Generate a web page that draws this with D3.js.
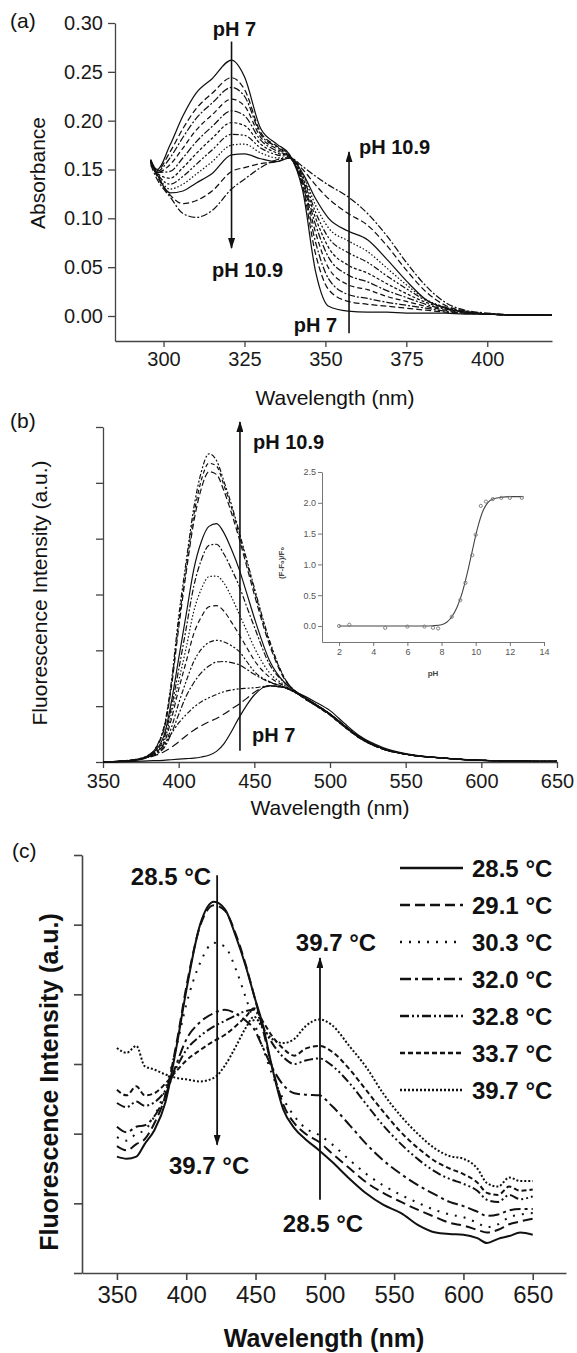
<!DOCTYPE html>
<html>
<head>
<meta charset="utf-8">
<script src="https://cdn.jsdelivr.net/npm/d3@7"></script>
<style>
  body { margin: 0; background: #fff; }
  svg text { font-family: "Liberation Sans", Arial, Helvetica, sans-serif; }
</style>
</head>
<body>
<div id="fig"></div>
<script>
// ---------- (a) absorbance, pH 7 -> pH 10.9 ----------
const wlA = [296, 298, 302, 306, 310, 315, 321, 325, 330, 335, 339, 343, 347, 351, 357, 363, 369, 375, 381, 387, 393, 400, 410, 420];
const absA = [
  [.160,.150,.175,.205,.228,.243,.262,.245,.192,.176,.165,.128,.045,.010,.005,.004,.004,.003,.003,.003,.002,.002,.001,.001],
  [.160,.149,.168,.192,.212,.228,.244,.232,.188,.174,.164,.132,.063,.027,.015,.012,.010,.008,.006,.004,.003,.002,.001,.001],
  [.160,.148,.162,.183,.202,.218,.234,.225,.186,.173,.163,.135,.075,.038,.022,.018,.014,.011,.008,.005,.003,.002,.001,.001],
  [.159,.147,.155,.172,.190,.206,.222,.215,.183,.171,.163,.137,.085,.049,.032,.027,.020,.015,.010,.006,.004,.002,.001,.001],
  [.159,.147,.148,.162,.178,.194,.210,.205,.180,.169,.163,.139,.093,.060,.042,.035,.026,.019,.012,.007,.004,.002,.001,.001],
  [.159,.146,.141,.152,.166,.182,.198,.195,.176,.167,.163,.141,.100,.070,.052,.044,.033,.023,.014,.008,.004,.002,.001,.001],
  [.158,.146,.135,.143,.155,.170,.186,.185,.172,.165,.163,.143,.106,.080,.065,.055,.041,.028,.016,.009,.005,.002,.001,.001],
  [.158,.145,.130,.135,.145,.158,.175,.176,.167,.162,.162,.145,.113,.090,.077,.066,.049,.032,.017,.009,.005,.002,.001,.001],
  [.158,.145,.126,.128,.136,.146,.165,.166,.161,.158,.162,.146,.120,.100,.087,.078,.058,.036,.017,.008,.004,.002,.001,.001],
  [.157,.143,.124,.115,.118,.128,.148,.152,.156,.158,.162,.150,.134,.120,.105,.093,.072,.047,.025,.011,.005,.002,.001,.001],
  [.155,.140,.122,.105,.101,.108,.130,.140,.152,.160,.162,.153,.143,.134,.122,.105,.082,.055,.031,.014,.006,.003,.001,.001]
];
const dashA = ["", "6,3", "7,2,2,2", "5,3", "7,2,2,2", "3,2", "6,2,2,2,2,2", "1.5,2", "", "6,3", "7,2,2,2"];
const yTicksA = [0, 0.05, 0.10, 0.15, 0.20, 0.25, 0.30];
const yMinorA = [0.025, 0.075, 0.125, 0.175, 0.225, 0.275];
const xTicksA = [300, 325, 350, 375, 400];
const xMinorA = [287.5, 312.5, 337.5, 362.5, 387.5, 412.5];

// ---------- (b) fluorescence, pH 7 -> pH 10.9 ----------
const wlB = [350, 370, 380, 390, 395, 400, 405, 410, 415, 420, 425, 430, 435, 440, 445, 450, 460, 470, 480, 490, 500, 510, 520, 535, 550, 575, 600, 650];
const fluB = [
  [0.00,0.01,0.02,0.03,0.04,0.05,0.06,0.07,0.09,0.12,0.19,0.33,0.55,0.80,1.02,1.20,1.37,1.33,1.22,1.08,0.92,0.68,0.46,0.26,0.15,0.07,0.03,0.01],
  [0.00,0.03,0.08,0.18,0.26,0.36,0.47,0.57,0.65,0.72,0.78,0.86,0.95,1.04,1.14,1.25,1.36,1.33,1.20,1.04,0.86,0.64,0.44,0.24,0.14,0.07,0.03,0.01],
  [0.00,0.03,0.09,0.30,0.50,0.70,0.85,0.98,1.08,1.15,1.21,1.26,1.29,1.31,1.32,1.33,1.36,1.33,1.20,1.04,0.86,0.64,0.44,0.24,0.14,0.07,0.03,0.01],
  [0.00,0.03,0.09,0.24,0.50,0.85,1.18,1.42,1.60,1.72,1.79,1.80,1.78,1.74,1.66,1.57,1.43,1.34,1.20,1.04,0.86,0.64,0.44,0.24,0.14,0.07,0.03,0.01],
  [0.00,0.03,0.09,0.27,0.60,1.05,1.45,1.80,2.02,2.14,2.18,2.15,2.08,1.98,1.80,1.62,1.44,1.34,1.20,1.04,0.86,0.64,0.44,0.24,0.14,0.07,0.03,0.01],
  [0.00,0.03,0.10,0.32,0.75,1.30,1.80,2.30,2.60,2.78,2.80,2.70,2.50,2.28,2.05,1.82,1.52,1.36,1.20,1.04,0.86,0.64,0.43,0.24,0.14,0.07,0.03,0.01],
  [0.00,0.03,0.10,0.35,0.85,1.45,2.05,2.70,3.10,3.32,3.33,3.20,2.95,2.65,2.35,2.05,1.60,1.38,1.20,1.03,0.85,0.63,0.43,0.24,0.14,0.07,0.03,0.01],
  [0.00,0.03,0.10,0.40,0.95,1.65,2.40,3.15,3.62,3.88,3.90,3.72,3.45,3.15,2.78,2.42,1.75,1.42,1.21,1.03,0.85,0.63,0.43,0.24,0.14,0.07,0.03,0.01],
  [0.00,0.03,0.11,0.45,1.05,1.85,2.65,3.45,3.95,4.22,4.27,4.10,3.80,3.45,3.02,2.58,1.82,1.42,1.22,1.04,0.86,0.63,0.43,0.24,0.14,0.07,0.03,0.01],
  [0.00,0.04,0.12,0.55,1.30,2.40,3.40,4.30,4.90,5.20,5.15,4.85,4.45,4.00,3.50,3.00,2.10,1.48,1.20,1.02,0.84,0.62,0.42,0.23,0.14,0.07,0.03,0.01],
  [0.00,0.04,0.12,0.58,1.35,2.50,3.50,4.42,5.05,5.35,5.30,4.95,4.55,4.08,3.58,3.08,2.15,1.50,1.20,1.02,0.84,0.62,0.42,0.23,0.14,0.07,0.03,0.01],
  [0.00,0.04,0.12,0.60,1.40,2.60,3.60,4.55,5.20,5.52,5.40,5.02,4.60,4.12,3.62,3.12,2.18,1.50,1.20,1.02,0.84,0.62,0.42,0.23,0.14,0.07,0.03,0.01]
];
const dashB = ["", "8,4", "5,2,2,2,2,2", "6,2,2,2", "5,2,2,2,2,2", "5,3", "1.5,2", "6,2,2,2", "", "6,3", "4,3", "5,2,2,2,2,2"];
const xTicksB = [350, 400, 450, 500, 550, 600, 650];
const xMinorB = [375, 425, 475, 525, 575, 625];
const yTicksB = [0, 1, 2, 3, 4, 5, 6];
const yMinorB = [0.5, 1.5, 2.5, 3.5, 4.5, 5.5];

// inset: (F-F0)/F0 against pH
const insetPH    = [2.0, 2.6, 4.7, 6.0, 7.0, 7.5, 7.8, 8.6, 9.1, 9.4, 9.8, 10.0, 10.3, 10.6, 11.0, 11.5, 12.0, 12.7];
const insetRatio = [0.00, 0.02, -0.03, -0.01, -0.01, -0.03, -0.04, 0.15, 0.42, 0.70, 1.15, 1.48, 1.95, 2.02, 2.06, 2.08, 2.08, 2.08];
const fitPH    = [2, 3, 4, 5, 6, 7, 7.5, 8, 8.3, 8.6, 8.9, 9.2, 9.5, 9.8, 10.1, 10.4, 10.7, 11, 11.5, 12, 12.8];
const fitRatio = [0, 0, 0, 0, 0, 0, 0.005, 0.02, 0.06, 0.15, 0.30, 0.53, 0.85, 1.22, 1.58, 1.85, 2.0, 2.06, 2.09, 2.1, 2.1];
const xTicksI = [2, 4, 6, 8, 10, 12, 14];
const xMinorI = [3, 5, 7, 9, 11, 13];
const yTicksI = [0, 0.5, 1.0, 1.5, 2.0, 2.5];
const yMinorI = [0.25, 0.75, 1.25, 1.75, 2.25];

// ---------- (c) fluorescence vs temperature ----------
const tempLabels = ["28.5 \u00B0C", "29.1 \u00B0C", "30.3 \u00B0C", "32.0 \u00B0C", "32.8 \u00B0C", "33.7 \u00B0C", "39.7 \u00B0C"];
const wlC = [350, 357, 364, 370, 377, 385, 393, 400, 410, 420, 428, 436, 443, 449, 455, 462, 470, 478, 486, 496, 505, 518, 530, 542, 555, 568, 580, 590, 600, 610, 617, 625, 633, 641, 650];
const fluC = [
  [1.67,1.64,1.67,1.85,2.05,2.45,3.25,4.05,5.00,5.33,5.22,4.82,4.40,3.98,3.58,2.95,2.35,2.08,1.92,1.76,1.60,1.35,1.14,0.98,0.86,0.68,0.58,0.56,0.55,0.50,0.43,0.49,0.53,0.58,0.55],
  [1.82,1.76,1.85,1.92,2.15,2.55,3.30,4.10,4.98,5.28,5.20,4.85,4.42,3.98,3.52,2.95,2.42,2.15,2.00,1.88,1.72,1.50,1.30,1.15,1.02,0.90,0.80,0.72,0.68,0.62,0.58,0.62,0.70,0.74,0.78],
  [1.95,1.90,2.00,2.05,2.25,2.65,3.25,3.85,4.45,4.74,4.68,4.35,3.95,3.60,3.25,2.85,2.50,2.25,2.08,1.98,1.85,1.62,1.42,1.26,1.12,1.00,0.90,0.84,0.80,0.72,0.66,0.70,0.80,0.84,0.86],
  [2.10,2.02,2.10,2.12,2.25,2.55,3.00,3.35,3.60,3.73,3.78,3.72,3.62,3.50,3.25,2.95,2.70,2.58,2.56,2.55,2.40,2.12,1.85,1.62,1.42,1.25,1.12,1.02,0.96,0.88,0.82,0.84,0.90,0.92,0.92],
  [2.44,2.38,2.46,2.40,2.45,2.62,2.95,3.20,3.40,3.54,3.62,3.70,3.76,3.78,3.55,3.30,3.10,3.00,3.05,3.08,2.98,2.72,2.42,2.12,1.85,1.62,1.45,1.35,1.28,1.18,1.05,1.02,1.12,1.06,1.10],
  [2.63,2.55,2.68,2.55,2.58,2.72,2.90,3.05,3.20,3.33,3.42,3.55,3.68,3.80,3.62,3.40,3.22,3.12,3.22,3.26,3.18,2.92,2.62,2.32,2.02,1.78,1.60,1.50,1.42,1.30,1.15,1.12,1.24,1.18,1.20],
  [3.23,3.16,3.26,2.97,2.92,2.85,2.80,2.78,2.75,2.80,2.98,3.26,3.52,3.68,3.52,3.36,3.30,3.36,3.54,3.64,3.56,3.25,2.95,2.58,2.25,1.98,1.78,1.68,1.64,1.50,1.29,1.24,1.37,1.32,1.32]
];
const dashC = ["", "10,5", "2,7", "11,4,3,4", "9,3,2,3,2,3", "5,3", "2,2"];
const xTicksC = [350, 400, 450, 500, 550, 600, 650];
const xMinorC = [375, 425, 475, 525, 575, 625];
const yTicksC = [0, 1, 2, 3, 4, 5, 6];
const yMinorC = [0.5, 1.5, 2.5, 3.5, 4.5, 5.5];

const width = 577, height = 1353;
const ink = "#111";

const svg = d3.select("#fig").append("svg")
    .attr("width", width)
    .attr("height", height)
    .attr("viewBox", [0, 0, width, height]);

svg.append("defs").append("marker")
    .attr("id", "head")
    .attr("viewBox", "0 0 11 7")
    .attr("refX", 10)
    .attr("refY", 3.5)
    .attr("markerUnits", "userSpaceOnUse")
    .attr("markerWidth", 11)
    .attr("markerHeight", 7)
    .attr("orient", "auto")
    .append("path")
    .attr("d", "M0,0L11,3.5L0,7Z")
    .attr("fill", ink);

// draws one axis (major + minor ticks)
function axis(gen, scale, pos, majors, minors, opt) {
  const g = svg.append("g").attr("transform", pos);
  g.call(gen(scale).tickValues(minors).tickSizeInner(opt.minor).tickSizeOuter(0).tickFormat(""));
  g.select(".domain").remove();
  g.call(gen(scale).tickValues(majors).tickSizeInner(opt.major).tickSizeOuter(0)
      .tickPadding(opt.pad).tickFormat(opt.fmt || ""));
  g.selectAll(".domain").attr("stroke", opt.color).attr("stroke-width", opt.sw);
  g.selectAll(".tick line").attr("stroke", opt.color).attr("stroke-width", opt.sw);
  g.selectAll(".tick text").attr("font-size", opt.fs).attr("fill", opt.textColor || "#1a1a1a");
  return g;
}

function arrow(x, y1, y2, sw) {
  svg.append("line")
      .attr("x1", x).attr("x2", x)
      .attr("y1", y1).attr("y2", y2)
      .attr("stroke", ink)
      .attr("stroke-width", sw)
      .attr("marker-end", "url(#head)");
}

function label(txt, x, y, fs, opts = {}) {
  return svg.append("text")
      .attr("x", x).attr("y", y)
      .attr("font-size", fs)
      .attr("font-weight", opts.bold ? "bold" : null)
      .attr("text-anchor", opts.anchor || "start")
      .attr("fill", opts.fill || ink)
      .attr("transform", opts.rotate ? `rotate(-90,${x},${y})` : null)
      .text(txt);
}

// ===================== panel (a) =====================
const xA = d3.scaleLinear().domain([285, 420]).range([115, 552]);
const yA = d3.scaleLinear().domain([-0.0256, 0.30]).range([341, 23]);

axis(d3.axisLeft, yA, "translate(115,0)", yTicksA, yMinorA,
  { major: 7, minor: 4, pad: 5, fmt: d3.format(".2f"), fs: 20, color: "#444", sw: 1.3 });
axis(d3.axisBottom, xA, "translate(0,341)", xTicksA, xMinorA,
  { major: 6, minor: 3, pad: 5, fmt: d3.format("d"), fs: 20, color: "#444", sw: 1.3 });

const lineA = d3.line()
    .x((d, i) => xA(wlA[i]))
    .y(d => yA(d))
    .curve(d3.curveMonotoneX);

svg.append("g")
    .attr("fill", "none")
    .attr("stroke", ink)
    .attr("stroke-width", 1.25)
    .selectAll("path")
    .data(absA)
    .join("path")
    .attr("stroke-dasharray", (d, i) => dashA[i])
    .attr("d", lineA);

arrow(xA(321), yA(0.281), yA(0.0696), 1.6);
arrow(xA(357.3), yA(-0.0177), yA(0.168), 1.6);
label("pH 7", xA(321) + 3, yA(0.281) - 6, 20, { bold: true, anchor: "middle" });
label("pH 10.9", xA(321) + 16, yA(0.0696) + 29, 20, { bold: true, anchor: "middle" });
label("pH 10.9", xA(357.3) + 10, yA(0.168) + 2, 20, { bold: true });
label("pH 7", xA(357.3) - 12, yA(-0.0177) - 1, 20, { bold: true, anchor: "end" });

label("(a)", 10, 28, 21);
label("Absorbance", 45, 173, 21, { anchor: "middle", rotate: true });
label("Wavelength (nm)", 335, 405, 21, { anchor: "middle" });

// ===================== panel (b) =====================
const xB = d3.scaleLinear().domain([350, 650]).range([103, 557]);
const yB = d3.scaleLinear().domain([0, 6]).range([762, 427]);

axis(d3.axisLeft, yB, "translate(103,0)", yTicksB, yMinorB,
  { major: 7, minor: 4, pad: 4, fmt: () => "", fs: 20, color: "#444", sw: 1.3 });
axis(d3.axisBottom, xB, "translate(0,762)", xTicksB, xMinorB,
  { major: 6, minor: -4, pad: 6, fmt: d3.format("d"), fs: 20, color: "#444", sw: 1.3 });

const lineB = d3.line()
    .x((d, i) => xB(wlB[i]))
    .y(d => yB(d))
    .curve(d3.curveMonotoneX);

svg.append("g")
    .attr("fill", "none")
    .attr("stroke", ink)
    .attr("stroke-width", 1.2)
    .selectAll("path")
    .data(fluB)
    .join("path")
    .attr("stroke-dasharray", (d, i) => dashB[i])
    .attr("d", lineB);

arrow(xB(440.5), yB(0.2), yB(6.09), 1.6);
label("pH 10.9", xB(440.5) + 13, 449, 20, { bold: true });
label("pH 7", xB(440.5) + 12, 742, 20, { bold: true });

label("(b)", 10, 428, 21);
label("Fluorescence Intensity (a.u.)", 47, 593, 21, { anchor: "middle", rotate: true });
label("Wavelength (nm)", 330, 815, 21, { anchor: "middle" });

// inset
const xI = d3.scaleLinear().domain([1, 14]).range([322, 544]);
const yI = d3.scaleLinear().domain([-0.26, 2.5]).range([642, 472]);

axis(d3.axisLeft, yI, "translate(322,0)", yTicksI, yMinorI,
  { major: 4, minor: 2, pad: 2, fmt: d3.format(".1f"), fs: 9, color: "#666", sw: 0.9, textColor: "#555" });
axis(d3.axisBottom, xI, "translate(0,642)", xTicksI, xMinorI,
  { major: 4, minor: 2, pad: 3, fmt: d3.format("d"), fs: 9, color: "#666", sw: 0.9, textColor: "#555" });

svg.append("path")
    .datum(fitRatio)
    .attr("fill", "none")
    .attr("stroke", "#444")
    .attr("stroke-width", 1.1)
    .attr("d", d3.line().x((d, i) => xI(fitPH[i])).y(d => yI(d)).curve(d3.curveMonotoneX));

svg.append("g")
    .selectAll("circle")
    .data(insetRatio)
    .join("circle")
    .attr("cx", (d, i) => xI(insetPH[i]))
    .attr("cy", d => yI(d))
    .attr("r", 1.6)
    .attr("fill", "none")
    .attr("stroke", "#777")
    .attr("stroke-width", 0.9);

label("(F-F\u2080)/F\u2080", 284, 563, 8, { bold: true, anchor: "middle", rotate: true, fill: "#444" });
label("pH", 433, 676, 8, { bold: true, anchor: "middle", fill: "#444" });

// ===================== panel (c) =====================
const xC = d3.scaleLinear().domain([324.8, 674]).range([82, 566]);
const yC = d3.scaleLinear().domain([0, 6]).range([1273, 855]);

axis(d3.axisLeft, yC, "translate(82,0)", yTicksC, yMinorC,
  { major: 8, minor: 5, pad: 4, fmt: () => "", fs: 24, color: "#444", sw: 1.6 });
axis(d3.axisBottom, xC, "translate(0,1273)", xTicksC, xMinorC,
  { major: 7, minor: 4, pad: 6, fmt: d3.format("d"), fs: 24, color: "#444", sw: 1.6 });

const lineC = d3.line()
    .x((d, i) => xC(wlC[i]))
    .y(d => yC(d))
    .curve(d3.curveMonotoneX);

svg.append("g")
    .attr("fill", "none")
    .attr("stroke", ink)
    .attr("stroke-width", 2)
    .selectAll("path")
    .data(fluC)
    .join("path")
    .attr("stroke-dasharray", (d, i) => dashC[i])
    .attr("d", lineC);

arrow(xC(422.3), yC(5.71), yC(1.84), 1.8);
arrow(xC(496.5), yC(1.05), yC(4.52), 1.8);
label(tempLabels[0], xC(422.3) - 6, 885, 24, { bold: true, anchor: "end" });
label(tempLabels[6], xC(422.3) - 8, 1174, 24, { bold: true, anchor: "middle" });
label(tempLabels[6], xC(496.5) + 16, 951, 24, { bold: true, anchor: "middle" });
label(tempLabels[0], xC(496.5) + 3, 1232, 24, { bold: true, anchor: "middle" });

// legend
const legend = svg.append("g")
    .selectAll("g")
    .data(tempLabels)
    .join("g")
    .attr("transform", (d, i) => `translate(400,${868 + i * 37})`);

legend.append("line")
    .attr("x1", 0).attr("x2", 63)
    .attr("stroke", ink)
    .attr("stroke-width", 2.5)
    .attr("stroke-dasharray", (d, i) => dashC[i]);

legend.append("text")
    .attr("x", 72)
    .attr("y", 8.5)
    .attr("font-size", 24)
    .attr("font-weight", "bold")
    .attr("fill", ink)
    .text(d => d);

label("(c)", 12, 858, 21);
label("Fluorescence Intensity (a.u.)", 58, 1082, 25, { bold: true, anchor: "middle", rotate: true });
label("Wavelength (nm)", 324, 1347, 25, { bold: true, anchor: "middle" });
</script>
</body>
</html>
